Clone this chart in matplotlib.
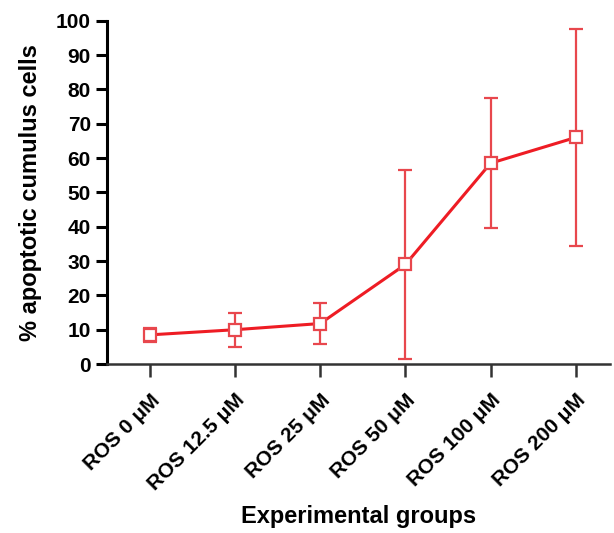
import matplotlib
matplotlib.use("Agg")
import matplotlib.pyplot as plt

groups = ["ROS 0 \u03bcM", "ROS 12.5 \u03bcM", "ROS 25 \u03bcM",
          "ROS 50 \u03bcM", "ROS 100 \u03bcM", "ROS 200 \u03bcM"]
mean_pct = [8.5, 10.0, 11.8, 29.0, 58.5, 66.0]
err_pct = [2.0, 5.0, 6.0, 27.5, 19.0, 31.5]

plt.rcParams["font.family"] = ["Liberation Sans", "DejaVu Sans"]
plt.rcParams["font.weight"] = "bold"

fig = plt.figure(figsize=(6.14, 5.33), dpi=100)
ax = fig.add_axes([0.175, 0.317, 0.818, 0.644])

x = list(range(len(groups)))
ax.errorbar(x, mean_pct, yerr=err_pct, fmt="none", ecolor="#e8474d",
            elinewidth=1.6, capsize=5, capthick=1.6, zorder=2)
ax.plot(x, mean_pct, color="#ee1c24", lw=2.2, marker="s", ms=9,
        mfc="white", mec="#e8474d", mew=1.6, zorder=3)

ax.set_xlim(-0.5, 5.4)
ax.set_ylim(0, 100)
ax.set_yticks(range(0, 101, 10))
ax.set_xticks(x)
ax.set_xticklabels(groups, rotation=45, ha="right", rotation_mode="anchor",
                   fontsize=15, fontweight="bold")
for lab in ax.get_yticklabels():
    lab.set_fontsize(15)
    lab.set_fontweight("bold")

for side in ["top", "right"]:
    ax.spines[side].set_visible(False)
ax.spines["left"].set_linewidth(2.2)
ax.spines["bottom"].set_linewidth(1.8)
ax.spines["bottom"].set_color("#333333")
ax.tick_params(axis="y", width=2.2, length=8, direction="out", pad=4)
ax.tick_params(axis="x", width=1.8, length=9, direction="out", pad=10,
               color="#333333")

ax.set_ylabel("% apoptotic cumulus cells", fontsize=17, fontweight="bold",
              labelpad=10)
ax.set_xlabel("Experimental groups", fontsize=17, fontweight="bold",
              labelpad=8)

fig.savefig("out.png", dpi=100)
